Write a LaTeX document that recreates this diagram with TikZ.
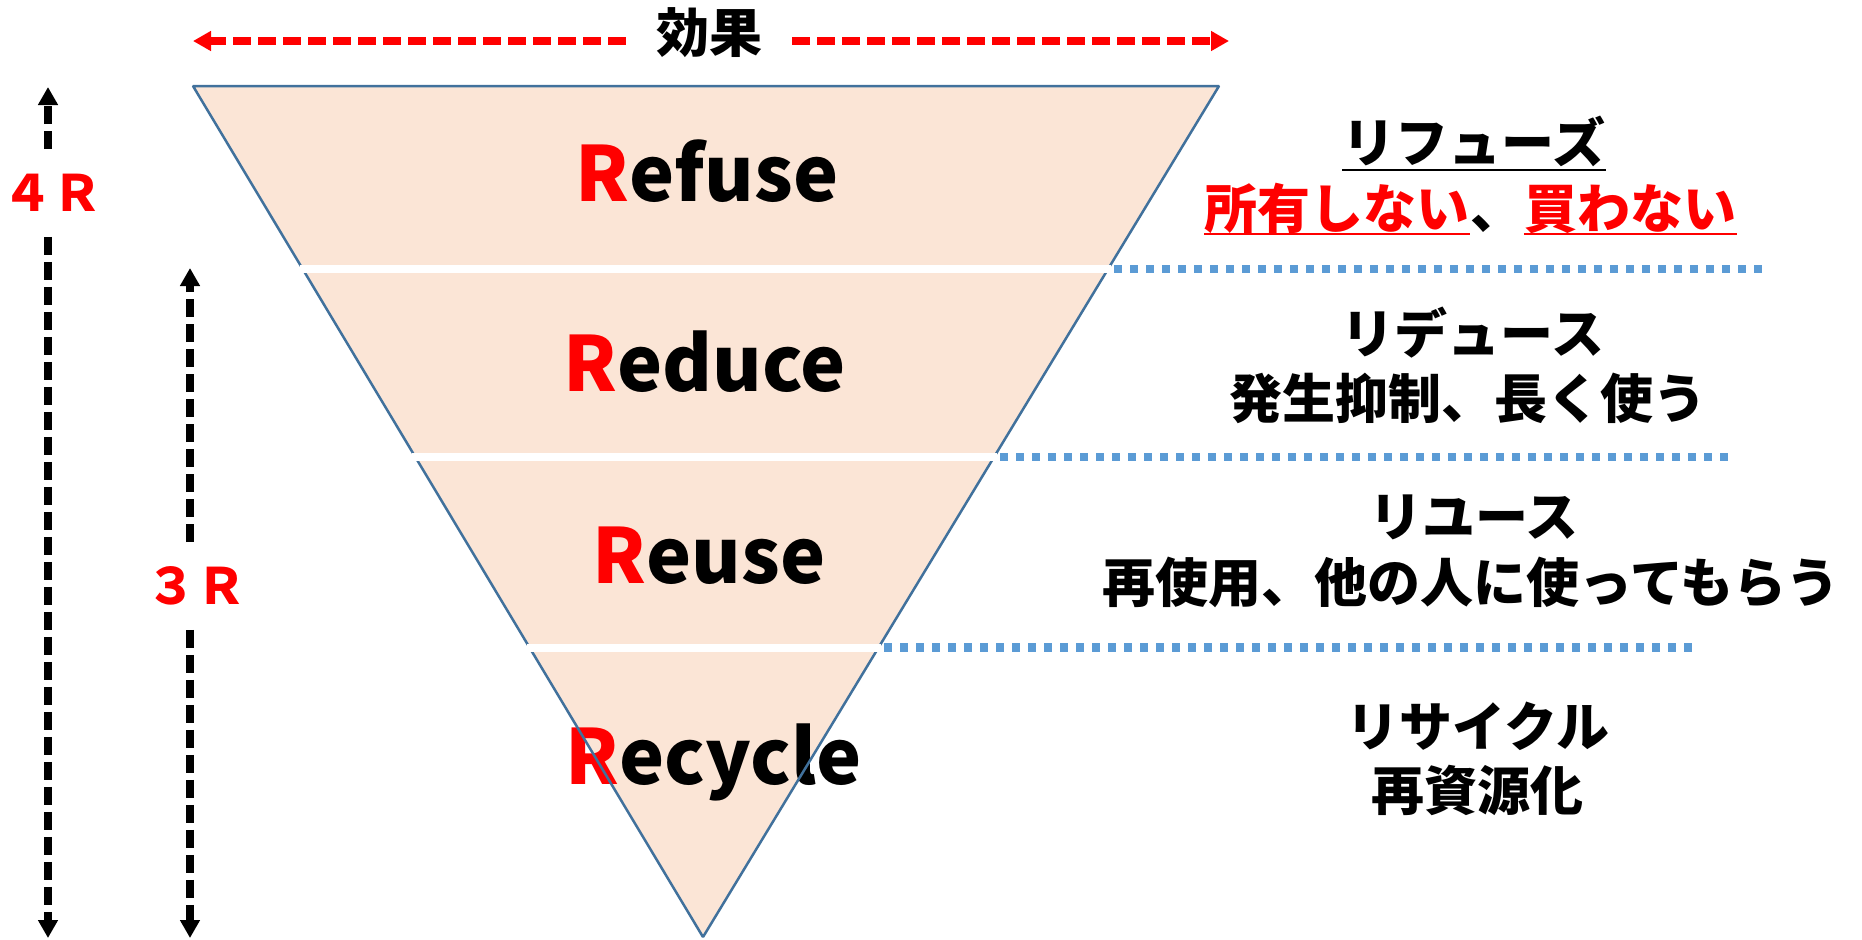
\documentclass[tikz,border=0pt]{standalone}
\usepackage{fontspec}
\setmainfont{Noto Sans CJK JP}
\usetikzlibrary{arrows.meta,calc}
\definecolor{peach}{HTML}{FBE5D6}
\definecolor{edgeblue}{HTML}{41719C}
\definecolor{dotblue}{HTML}{5B9BD5}
\newcommand{\redR}{{\color{red}R}}

\begin{document}
\begin{tikzpicture}[x=0.5pt,y=-0.5pt,
    layer/.style={font=\fontsize{38}{44}\selectfont\bfseries,anchor=base,inner sep=0pt},
    note/.style={font=\fontsize{26.5}{32}\selectfont\bfseries,inner sep=0pt},
    rlabel/.style={font=\fontsize{25}{30}\selectfont\bfseries,text=red,minimum height=43.5pt,inner sep=0pt},
    sep/.style={white,line width=4pt,shorten <=-1.5pt,shorten >=-1.5pt},
    dotline/.style={dotblue,line width=4.25pt,dash pattern=on 4pt off 4pt},
    effarrow/.style={red,line width=4pt,dash pattern=on 9pt off 3.5pt,-{Triangle[length=9pt,width=9.5pt]}},
    rarrow/.style={black,line width=3.75pt,dash pattern=on 9pt off 3.5pt,-{Triangle[length=9pt,width=9.5pt]}}]
  \useasboundingbox (0,0) rectangle (1862,939);
  \coordinate (tl) at (193,86);
  \coordinate (tr) at (1219,86);
  \coordinate (apex) at (703,937);
  \fill[peach] (tl) -- (tr) -- (apex) -- cycle;

  % the four layers
  \node[layer] (refuse) at (707,201) {\redR efuse};
  \node[layer] (reduce) at (705,391) {\redR educe};
  \node[layer] (reuse) at (709,583) {\redR euse};
  \node[layer] (recycle) at (714,784) {\redR ecycle};
  \draw[edgeblue,line width=1.25pt,line join=bevel] (tl) -- (tr) -- (apex) -- cycle;

  \foreach \i/\t/\e in {1/0.215/1766,2/0.436/1730,3/0.660/1695} {
    \coordinate (l\i) at ($(tl)!\t!(apex)$);
    \coordinate (r\i) at ($(tr)!\t!(apex)$);
    \coordinate (d\i) at (r\i -| \e,0);
    \draw[sep] (l\i) -- (r\i);
    \draw[dotline] ([xshift=3pt]r\i) -- (d\i);
  }

  % notes on the right
  \node[note,anchor=base] (refuseJ) at (1474,162) {リフューズ};
  \draw[line width=1.4pt] ([yshift=-4pt]refuseJ.base west) -- ([yshift=-4pt]refuseJ.base east);
  \node[note,anchor=base] (comma) at (1497,228) {、};
  \node[note,anchor=base east,text=red] (own) at (comma.base west) {所有しない};
  \node[note,anchor=base west,text=red] (buy) at (comma.base east) {買わない};
  \draw[red,line width=1.4pt] ([yshift=-3pt]own.base west) -- ([yshift=-3pt]own.base east);
  \draw[red,line width=1.4pt] ([yshift=-3pt]buy.base west) -- ([yshift=-3pt]buy.base east);
  \node[note] (reduceJ) at (1473,333) {リデュース};
  \node[note] (reduceN) at (1468,398) {発生抑制、長く使う};
  \node[note] (reuseJ) at (1474,517) {リユース};
  \node[note] (reuseN) at (1471,582) {再使用、他の人に使ってもらう};
  \node[note] (recycleJ) at (1478,726) {リサイクル};
  \node[note] (recycleN) at (1477,790) {再資源化};

  % effect arrow
  \node[note,inner xsep=15pt] (effect) at (709,33) {効果};
  \coordinate (effL) at (193,41);
  \coordinate (effR) at (1229,41);
  \draw[effarrow] (effect.west |- effL) -- (effL);
  \draw[effarrow] (effect.east |- effR) -- (effR);

  % 4R and 3R
  \node[rlabel] (four) at (53,193) {４Ｒ};
  \coordinate (fourtop) at (48,87);
  \coordinate (fourbot) at (48,938);
  \draw[rarrow] (four.north -| fourtop) -- (fourtop);
  \draw[rarrow] (four.south -| fourbot) -- (fourbot);
  \node[rlabel] (three) at (196,586) {３Ｒ};
  \coordinate (threetop) at (190,268);
  \coordinate (threebot) at (190,938);
  \draw[rarrow] (three.north -| threetop) -- (threetop);
  \draw[rarrow] (three.south -| threebot) -- (threebot);
\end{tikzpicture}
\end{document}
